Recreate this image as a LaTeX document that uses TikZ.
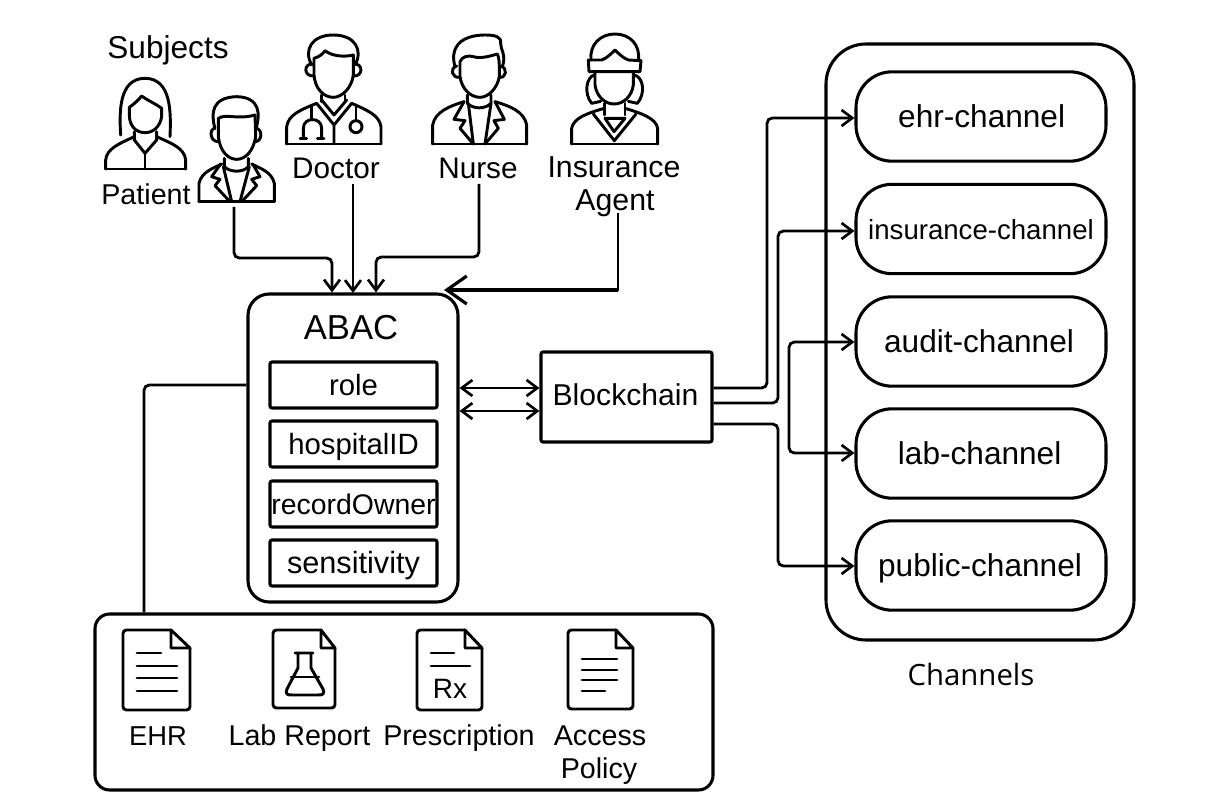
\documentclass[tikz,border=0pt]{standalone}
\usepackage{fontspec}
\setmainfont{Liberation Sans}
\newfontfamily\chanfont{Open Sans}
\usetikzlibrary{arrows.meta}
\newcommand{\fs}[1]{\fontsize{#1}{#1}\selectfont}
\tikzset{
  x=0.75pt,y=-0.75pt,
  box/.style={draw=black,line width=2.3pt,inner sep=0pt,align=center},
  attr/.style={box,rounded corners=1.5pt,minimum width=125.25pt,minimum height=34.5pt,text height=16pt,text depth=0pt,font=\fs{22}},
  chan/.style={box,rounded corners=27pt,minimum width=187.5pt,minimum height=67pt,text height=16pt,text depth=0pt,font=\fs{23.7}},
  lbl/.style={inner sep=0pt,align=center,text height=16pt,text depth=0pt,font=\fs{21.5}},
  conn/.style={draw=black,line width=2.1pt,rounded corners=4pt},
  tip/.style={-{Straight Barb[length=8pt,width=12pt,line width=2pt]}},
  tips/.style={{Straight Barb[length=8pt,width=12pt,line width=2pt]}-{Straight Barb[length=8pt,width=12pt,line width=2pt]}},
  icon/.style={draw=black,line width=2.2pt,line join=round,line cap=round},
  zoomA/.style={shift={(90,20)},x=0.25pt,y=-0.25pt},
  zoomB/.style={shift={(410,20)},x=0.25pt,y=-0.25pt},
}
\begin{document}
\begin{tikzpicture}
\useasboundingbox (0,0) rectangle (1214,809);
\fill[white] (0,0) rectangle (1214,809);

% group frames
\node[box,rounded corners=30pt,minimum width=231pt,minimum height=447pt] (chans) at (980,342) {};
\node[box,rounded corners=16pt,minimum width=157.5pt,minimum height=231pt] (abac) at (353,448) {};
\node[box,rounded corners=11pt,minimum width=463.5pt,minimum height=132pt] (docs) at (404,702) {};

% ABAC
\node[lbl,font=\fs{26}] (abact) at (351,329) {ABAC};
\node[attr] (role) at (353.5,385) {role};
\node[attr] (hosp) at (353.5,444) {hospitalID};
\node[attr,font=\fs{21.3}] (rec) at (353.5,504) {recordOwner};
\node[attr,font=\fs{23}] (sens) at (353.5,563) {sensitivity};

% Blockchain
\node[box,rounded corners=1.5pt,minimum width=128.25pt,minimum height=67.5pt] (bc) at (626.5,397) {};
\node[lbl,font=\fs{22.6}] (bct) at (625.5,395) {Blockchain};

% Channels
\node[chan] (ehr) at (981,116.5) {ehr-channel\kern-1pt};
\node[chan,font=\fs{20.7}] (ins) at (981,229) {insurance-channel};
\node[chan] (aud) at (981,341.5) {audit-channel\kern3pt};
\node[chan] (labc) at (981,453.5) {lab-channel\kern2pt};
\node[chan] (pub) at (981,565.5) {public-channel\kern1.5pt};
\node[inner sep=0pt,font=\chanfont\fs{22}] (chl) at (971,674) {Channels};

% Subject labels
\node[lbl,font=\fs{23.7}] (subj) at (168,48) {Subjects};
\node[lbl] (patl) at (146,194) {Patient};
\node[lbl,font=\fs{22.3}] (docl) at (336,168) {Doctor};
\node[lbl,font=\fs{22.3}] (nurl) at (478,168) {Nurse};
\node[lbl,font=\fs{22.7}] (insl) at (614,167) {Insurance};
\node[lbl,font=\fs{22.7}] (agl) at (615,200) {Agent};
\coordinate (manf) at (234,207);

% Document labels
\node[lbl,font=\fs{20.5}] (ehrl) at (158,735) {EHR};
\node[lbl] (labl) at (299.5,735) {Lab Report};
\node[lbl] (prel) at (459,735) {Prescription};
\node[lbl] (accl) at (600,735) {Access};
\node[lbl] (poll) at (599,768) {Policy};

% Connectors: subjects to ABAC
\coordinate (m1) at (332,258);
\coordinate (m2) at (376,257);
\coordinate (m3) at (618,290);
\draw[conn,tip] (manf) |- (m1) -- (m1 |- abac.north);
\draw[conn,tip] (353,184) -- (353 ,293);
\draw[conn,tip] (479,184) |- (m2) -- (m2 |- abac.north);
\draw[draw=black,line width=2.1pt] (618,213) -- (618,291);
\draw[draw=black,line width=3pt,-{Straight Barb[length=15pt,width=21pt,line width=2.4pt]}] (m3) -- (444,290);

% ABAC to docs
\draw[conn] (abac.west |- 0,385) -| (docs.north -| 144,0);

% ABAC <-> Blockchain
\draw[conn,tips] (abac.east |- 0,388) -- (bc.west |- 0,388);
\draw[conn,tips] (abac.east |- 0,411) -- (bc.west |- 0,411);

% Blockchain to channels
\coordinate (r1) at (767,118);
\coordinate (r2) at (778,231);
\coordinate (r3) at (778,566);
\coordinate (r4) at (789,342);
\coordinate (r5) at (789,453);
\draw[conn,tip] (bc.east |- 0,388) -| (r1) -- (ehr.west |- r1);
\draw[conn,tip] (bc.east |- 0,403) -| (r2) -- (ins.west |- r2);
\draw[conn,tip] (bc.east |- 0,424) -| (r3) -- (pub.west |- r3);
\draw[conn,tips] (aud.west |- r4) -- (r4) -- (r5) -- (labc.west |- r5);

% ===== Subject icons =====
\begin{scope}[zoomA]
% Patient
\draw[icon] (92,345) .. controls (88,280) and (85,175) .. (165,175) .. controls (245,175) and (243,280) .. (240,350);
\draw[icon] (118,262) .. controls (135,250) and (145,240) .. (155,228) .. controls (170,240) and (195,250) .. (215,265) -- (215,290) .. controls (210,320) and (190,338) .. (165,338) .. controls (140,338) and (118,320) .. (118,285) -- cycle;
\draw[icon] (133,335) -- (133,360) -- (165,400) -- (200,360) -- (200,335);
\draw[icon] (47,447) -- (47,420) .. controls (50,385) and (90,370) .. (133,350);
\draw[icon] (287,447) -- (287,420) .. controls (284,385) and (245,370) .. (200,350);
\draw[icon] (47,447) -- (287,447) (165,400) -- (165,447);
% Man
\draw[icon] (375,325) .. controls (362,280) and (365,232) .. (440,230) .. controls (510,232) and (512,280) .. (497,330);
\draw[icon] (385,350) -- (385,295) .. controls (410,280) and (440,300) .. (495,285) -- (497,350) .. controls (490,395) and (465,418) .. (440,418) .. controls (415,418) and (390,395) .. (385,350);
\draw[icon] (375,325) .. controls (358,325) and (358,365) .. (385,365);
\draw[icon] (497,325) .. controls (518,325) and (518,365) .. (495,365);
\draw[icon] (403,415) -- (403,440) .. controls (420,458) and (460,458) .. (475,440) -- (475,415);
\draw[icon] (327,545) -- (327,490) .. controls (335,455) and (370,445) .. (395,432);
\draw[icon] (553,545) -- (553,490) .. controls (545,455) and (510,445) .. (485,432);
\draw[icon] (327,545) -- (553,545);
\draw[icon] (392,432) -- (365,470) -- (390,478) -- (375,497) -- (420,545);
\draw[icon] (400,440) -- (425,545) (478,440) -- (450,545);
\draw[icon] (488,432) -- (510,470) -- (485,478) -- (500,497) -- (455,545);
% Doctor
\draw[icon] (665,135) .. controls (640,90) and (665,45) .. (730,45) .. controls (795,45) and (820,90) .. (795,135);
\draw[icon] (672,165) -- (672,115) .. controls (690,110) and (700,100) .. (705,92) .. controls (725,108) and (760,112) .. (790,105) -- (790,165) .. controls (785,205) and (755,232) .. (730,232) .. controls (700,232) and (675,205) .. (672,165);
\draw[icon] (668,132) .. controls (640,130) and (640,170) .. (672,168);
\draw[icon] (792,132) .. controls (820,130) and (820,170) .. (790,168);
\draw[icon] (695,225) -- (695,245) (765,225) -- (765,245);
\draw[icon] (590,372) -- (590,320) .. controls (595,285) and (630,270) .. (680,250);
\draw[icon] (873,372) -- (873,320) .. controls (868,285) and (830,270) .. (785,250);
\draw[icon] (590,372) -- (873,372);
\draw[icon] (680,250) -- (732,315) -- (785,250) (695,240) -- (732,285) -- (770,240) (732,315) -- (732,372);
\draw[icon] (665,257) -- (665,298);
\draw[icon] (640,355) -- (640,325) .. controls (640,290) and (695,290) .. (695,325) -- (695,355);
\draw[icon] (630,355) -- (650,355) (682,355) -- (702,355);
\draw[icon] (798,255) -- (798,302);
\draw[icon] (798,320) circle[radius=4.5pt];
\end{scope}
\begin{scope}[zoomB]
% Nurse
\draw[icon] (135,140) .. controls (125,105) and (135,85) .. (145,72) .. controls (165,50) and (200,45) .. (225,45) .. controls (255,45) and (275,50) .. (272,70) .. controls (270,85) and (290,105) .. (277,140);
\draw[icon] (150,170) -- (150,125) .. controls (155,110) and (175,105) .. (190,110) .. controls (215,118) and (250,105) .. (262,102) .. controls (268,115) and (268,125) .. (268,170) .. controls (262,205) and (235,232) .. (210,232) .. controls (180,232) and (155,205) .. (150,170);
\draw[icon] (140,138) .. controls (118,145) and (125,175) .. (150,172);
\draw[icon] (272,138) .. controls (295,145) and (288,175) .. (268,172);
\draw[icon] (172,225) -- (172,250) .. controls (190,268) and (225,268) .. (243,250) -- (243,225);
\draw[icon] (68,372) -- (68,315) .. controls (75,275) and (120,258) .. (162,245);
\draw[icon] (350,372) -- (350,315) .. controls (343,275) and (300,258) .. (255,245);
\draw[icon] (68,372) -- (350,372);
\draw[icon] (162,245) -- (132,298) -- (165,302) -- (150,325) -- (190,372);
\draw[icon] (175,250) -- (190,372) (243,250) -- (225,372);
\draw[icon] (255,245) -- (283,298) -- (252,302) -- (265,325) -- (225,372);
% Insurance agent
\draw[icon] (543,120) .. controls (538,75) and (570,42) .. (615,42) .. controls (660,42) and (692,75) .. (685,122);
\draw[icon] (535,120) -- (575,120) .. controls (590,115) and (605,100) .. (615,90) .. controls (625,100) and (640,115) .. (655,120) -- (693,122) -- (690,155) -- (537,155) -- cycle;
\draw[icon] (555,155) -- (555,195) .. controls (560,230) and (585,252) .. (612,252) .. controls (640,252) and (665,230) .. (670,195) -- (670,155);
\draw[icon] (553,165) .. controls (530,170) and (520,220) .. (545,250) -- (572,244);
\draw[icon] (672,165) .. controls (700,170) and (708,220) .. (682,250) -- (655,244);
\draw[icon] (583,250) -- (583,285) (645,250) -- (645,285);
\draw[icon] (485,372) -- (485,325) .. controls (490,295) and (530,280) .. (583,265);
\draw[icon] (743,372) -- (743,325) .. controls (738,295) and (695,280) .. (645,265);
\draw[icon] (485,372) -- (743,372);
\draw[icon] (550,282) -- (613,362) -- (678,282) (585,295) -- (612,335) -- (645,295) (585,295) -- (645,295);
\end{scope}

% ===== Document icons =====
\foreach \l/\r/\b in {123/190/710,273/335/708,417/482/710,568/633/709}{
  \draw[icon,rounded corners=2.5pt] (\l+48,630) -- (\l,630) -- (\l,\b) -- (\r,\b) -- (\r,648);
  \draw[icon] (\l+48,630) -- (\r,648) -- (\l+48,648) -- cycle;
}
\draw[icon] (137,653) -- (161,653) (137,666) -- (177,666) (137,678) -- (177,678) (137,691) -- (177,691);
\draw[icon] (295,653) -- (313,653) (298,653) -- (298,668) -- (287,689) .. controls (285,694) and (287,695) .. (292,695) -- (318,695) .. controls (323,695) and (325,694) .. (323,689) -- (311,668) -- (311,653);
\draw[icon] (291,677) -- (319,677);
\draw[icon] (431,653) -- (454,653) (431,666) -- (470,666);
\node[inner sep=0pt,font=\fs{21}] (rxt) at (450,689) {Rx};
\draw[icon] (582,659) -- (617,659) (582,670) -- (617,670) (582,680) -- (617,680) (582,691) -- (605,691);
\end{tikzpicture}
\end{document}
